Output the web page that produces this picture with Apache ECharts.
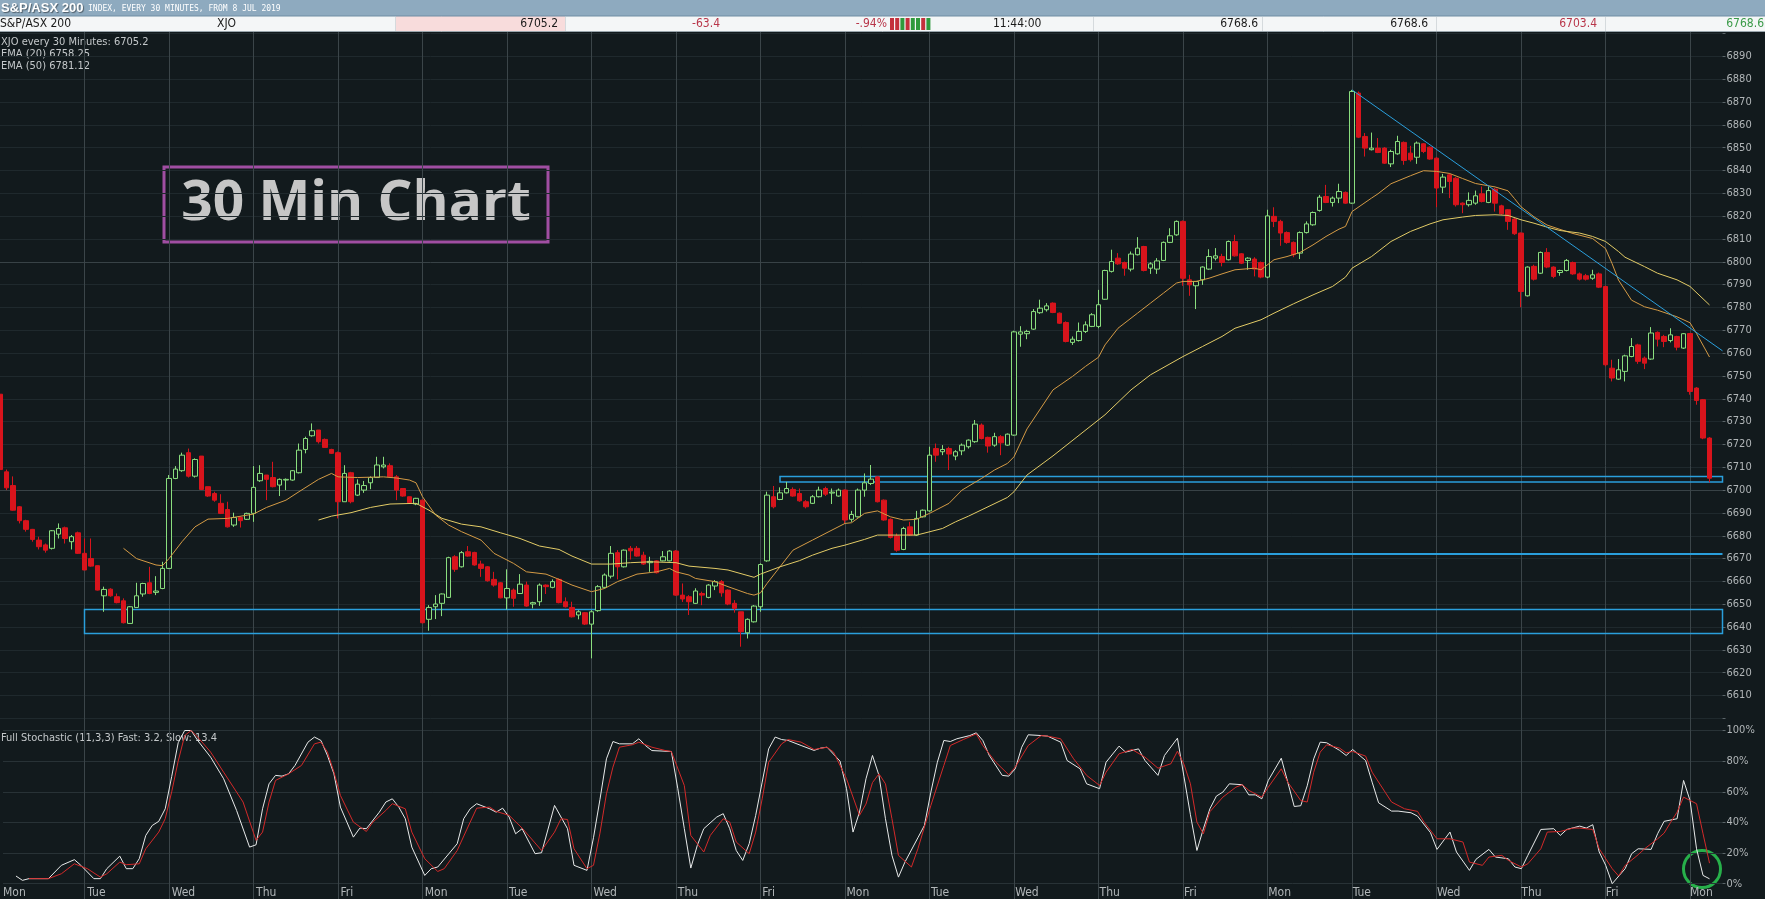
<!DOCTYPE html>
<html>
<head>
<meta charset="utf-8">
<script src="https://cdn.jsdelivr.net/npm/echarts@6/dist/echarts.min.js"></script>
<style>
html,body{margin:0;padding:0;background:#121a1d;}
#chart{width:1765px;height:899px;}
</style>
</head>
<body>
<div id="chart"></div>
<script>
// ---------- categories ----------
const dayNames = ['Mon','Tue','Wed','Thu','Fri','Mon','Tue','Wed','Thu','Fri','Mon','Tue','Wed','Thu','Fri','Mon','Tue','Wed','Thu','Fri','Mon'];
const dayDates = ['8 Jul','9 Jul','10 Jul','11 Jul','12 Jul','15 Jul','16 Jul','17 Jul','18 Jul','19 Jul','22 Jul','23 Jul','24 Jul','25 Jul','26 Jul','29 Jul','30 Jul','31 Jul','1 Aug','2 Aug','5 Aug'];
const sessionTimes = ['10:00','10:30','11:00','11:30','12:00','12:30','13:00','13:30','14:00','14:30','15:00','15:30','16:00'];
const lastDaySlots = 6;

// ---------- candles [open, high, low, close] ----------
const week1 = [
[6742,6743,6708,6709],[6708,6709,6700,6701],[6702,6706,6691,6691.2],[6692.7,6693,6685.4,6686.6],[6686.6,6687,6681.8,6682.8],
[6682.8,6683,6677.4,6678.4],[6678.1,6679.6,6674,6675.2],[6676,6676.6,6672.6,6673.7],[6674.5,6682.5,6674,6682.2],[6680.7,6685.4,6678.8,6683.2],
[6683.5,6684,6676.6,6678.8],[6677.4,6680.3,6674,6679.6],[6681.3,6681.8,6672,6672.3],
[6672.3,6678.8,6665,6665],[6670,6678.8,6666.4,6666.7],[6666.9,6667,6656,6656.2],[6653.7,6657.7,6646.7,6656.5],[6656.6,6657,6653.3,6653.7],
[6653.3,6654.7,6650.4,6650.7],[6651.5,6652.6,6641.6,6641.9],[6641.6,6649.2,6641.6,6648.9],[6648.6,6659.4,6648.6,6653.7],[6654.5,6659.4,6653.3,6659.1],
[6659.4,6666.4,6654.4,6654.7],[6655.2,6662.3,6654,6655.8],[6656.9,6668.6,6656.6,6665.7],
[6665.7,6706.6,6665.4,6705.1],[6705.1,6710.5,6704.8,6709.2],[6708.5,6716.4,6708,6715.3],[6716.4,6718.2,6705.5,6706.1],[6706.1,6713.9,6705.5,6713.4],
[6714.9,6714.9,6700,6700.3],[6701.5,6701.5,6697,6697.4],[6698.5,6699.3,6694.9,6695.6],[6694.2,6698.2,6689.5,6689.8],[6691.5,6694.9,6683.6,6683.9],
[6684.7,6690.1,6683.9,6688],[6688,6688.3,6683.6,6686.6],[6687.2,6690.1,6686.9,6689.8],
[6689.8,6710.5,6686.1,6701.2],[6704.1,6710.9,6703.6,6707.3],[6706.6,6706.6,6695.6,6704.7],[6705.5,6712.4,6701.2,6701.5],[6702.2,6705.1,6697.4,6704.7],
[6704.4,6705.1,6700,6704.7],[6704.4,6708.8,6704.1,6708.5],[6707.6,6720.4,6707.3,6717.5],[6717.8,6723.4,6716.1,6722.6],[6723.8,6729.2,6723.4,6726],
[6726.3,6726.3,6720.4,6721.2],[6722.2,6722.6,6718.7,6718.7],[6717.8,6718.1,6715.8,6716.1],
[6716.4,6716.9,6687.6,6694.9],[6694.9,6710.9,6694.9,6707.3],[6707.6,6708,6694.2,6694.9],[6697.8,6704.7,6697.4,6702.6],[6700,6704,6698.8,6702],
[6703.2,6706,6700.4,6705.5],[6705.5,6714.6,6705.5,6711],[6710.2,6714.6,6709.5,6711],[6710.7,6711.7,6705.5,6705.8],[6705.8,6706.6,6695.6,6700],
[6700.7,6700.7,6697.1,6697.4],[6697.1,6697.1,6694.2,6694.5],[6693.9,6696.6,6693.4,6696.4]
];
const week2 = [
[6695.6,6695.9,6641.6,6641.9],[6643.4,6649.6,6638.4,6648.6],[6648.9,6654,6643.5,6650.1],[6650.4,6654.7,6644.8,6654.5],[6653,6670.8,6652.7,6670.4],
[6670.8,6671.5,6664.2,6665.3],[6666.4,6673.3,6666.1,6672.6],[6673,6675.5,6670.8,6671.1],[6672.7,6673,6666.9,6667.2],[6667.6,6669.1,6662,6665.7],
[6666.4,6666.7,6659.9,6660.3],[6660.9,6664.2,6657.7,6658.4],[6659.4,6659.7,6652.6,6652.8],
[6652.8,6665.3,6647.7,6656.9],[6656.2,6656.9,6648.9,6652.6],[6654.7,6663.2,6654.5,6658.8],[6658.4,6659.9,6648.9,6649.2],[6650.1,6651.1,6648.2,6650.7],
[6651.1,6659.1,6649.3,6658.4],[6658.4,6658.7,6654.5,6657.7],[6657.4,6660.9,6657,6659.9],[6660.9,6661.3,6650.4,6650.7],[6651.1,6653,6648.6,6648.9],
[6648.6,6651.1,6644.2,6644.5],[6645.3,6647.4,6643.4,6646.7],[6646.3,6646.6,6640.9,6641.3],
[6641.3,6647.4,6626.3,6646.7],[6647.2,6658.4,6646.7,6657.7],[6657.4,6663.5,6656.9,6662.8],[6662.3,6675.5,6661.3,6672.3],[6672.6,6673.7,6660.9,6666.4],
[6666.4,6674,6666.1,6673.7],[6674.5,6675.5,6669.6,6673.4],[6674.5,6675.5,6670.8,6671.1],[6671.5,6673,6667.2,6667.6],[6668.2,6670.8,6664.2,6668.8],
[6669,6669.3,6663.5,6663.8],[6669,6673.3,6668.8,6670.8],[6669,6673.7,6668.8,6673.3],
[6673.3,6673.7,6653.7,6654],[6654,6659.1,6651,6652.3],[6653.3,6654,6645.3,6651.1],[6650.4,6657,6650.1,6655.8],[6654.7,6655.5,6649.6,6654],
[6653,6658.8,6652.6,6658.4],[6658,6660.6,6656.2,6659.9],[6659.9,6660.6,6653.3,6655],[6656.2,6656.5,6649.6,6650.1],[6650.4,6651.8,6646.3,6648.2],
[6646.7,6646.7,6631.4,6638],[6637.5,6643.8,6635,6643.4],[6642.3,6649.6,6642,6649.2],
[6648.9,6667.9,6646.7,6667.4],[6669,6699.3,6668.6,6697.8],[6697.1,6701.8,6692,6692.7],[6695.9,6701.2,6695.6,6698.8],[6698.8,6703.6,6698.5,6700.7],
[6700.3,6701.2,6697.1,6697.4],[6698.5,6700.7,6694.9,6695.3],[6694.9,6695.6,6692,6692.7],[6694.2,6697.8,6693.9,6697.1],[6697.1,6701.5,6696.8,6700],
[6700.7,6701.5,6697.4,6698.2],[6698.7,6700.7,6693.9,6699.1],[6697.4,6700.7,6697.1,6700]
];
const week3 = [
[6700,6700.3,6685.4,6686.9],[6687.2,6690.9,6686.1,6689.3],[6688.3,6700.7,6688,6700],[6700,6707.3,6697.1,6703.2],[6702.9,6711,6702.2,6704.8],
[6705.8,6706.1,6694.6,6694.9],[6695.6,6695.9,6686.6,6686.9],[6687.2,6687.6,6678.8,6679.3],[6679.9,6681,6673,6673.7],[6674,6683.9,6673.7,6683.2],
[6683.9,6686.1,6679.9,6680.3],[6680.3,6690.9,6679.9,6687.6],[6688.3,6691.5,6688,6691.2],
[6690.9,6719,6690.5,6715.3],[6718.2,6720.4,6712.4,6715.3],[6716.8,6719.7,6715.3,6717.8],[6718.2,6719,6708.8,6715.8],[6714.9,6717.5,6713.1,6716.8],
[6717.2,6720.4,6715.3,6719.7],[6719,6722.2,6718.2,6721.9],[6721.2,6730.7,6720.7,6728.9],[6728.5,6729.2,6722.2,6722.6],[6723.1,6723.4,6716.4,6719.3],
[6719.7,6725.1,6719,6723.4],[6723.4,6724.1,6715.3,6720.7],[6719.7,6724.8,6719.4,6724.5],
[6724.1,6769.8,6723.8,6769.3],[6768.3,6771.8,6762.8,6769.3],[6768.5,6770.2,6766.1,6769.5],[6770.5,6779.3,6770.2,6778.2],[6777.7,6783.4,6777.2,6779.7],
[6779,6781.9,6778.2,6780.7],[6781.9,6782.2,6777.5,6777.8],[6777.5,6777.8,6772.8,6773.1],[6773.4,6773.9,6764.7,6765.1],[6764.7,6767.3,6763.6,6766.1],
[6765.5,6773.4,6765.1,6769.5],[6769.5,6773.9,6768.8,6772.4],[6771.7,6777.5,6771.4,6776.8],
[6771.7,6787.7,6770.9,6781.2],[6783.6,6796.5,6783.4,6796.2],[6795.8,6805.3,6795.3,6800.1],[6801.6,6803.8,6798.7,6799.1],[6799.7,6800.1,6793.9,6797.2],
[6796.8,6804.5,6795.8,6803.4],[6803.1,6810.8,6802.8,6806],[6806.7,6807,6795.8,6796.2],[6797.2,6799.8,6794.7,6799.1],[6796.8,6801.6,6794.7,6800.4],
[6800.6,6808.9,6800.3,6808.5],[6808.5,6814.7,6808.2,6811.4],[6811.8,6818.1,6811.4,6817.7],
[6817.7,6818.1,6789.5,6792.8],[6792.1,6794.3,6785.1,6789.9],[6789.5,6791.4,6779.3,6791.4],[6792.1,6798,6789.9,6797.7],[6796.8,6805.5,6796.5,6802.3],
[6801.6,6806,6800.6,6802.6],[6802.3,6803.5,6798,6799.7],[6800.9,6809.3,6800.6,6808.9],[6808.9,6811.8,6802.3,6802.6],[6803.5,6803.8,6799,6799.4],
[6800.6,6802,6796.5,6801.6],[6801.2,6802,6793.6,6796.8],[6799.7,6800.1,6792.8,6793.3]
];
const week4 = [
[6793.3,6822.8,6792.8,6820.1],[6819.9,6823.9,6815.2,6817.7],[6817.7,6818.4,6807,6812.6],[6812.8,6813.3,6807.9,6808.5],[6808.5,6808.9,6802,6803.1],
[6803.8,6813.3,6801.2,6812.8],[6812.8,6817.7,6812.4,6816.6],[6816.2,6822,6815.8,6821.6],[6822.5,6829.3,6822,6828.3],[6828.6,6833.7,6825.7,6826],
[6826,6828.6,6824.2,6827.9],[6827.9,6834.2,6825.7,6830.8],[6830.4,6830.8,6825.4,6825.7],
[6825.7,6875.3,6825.4,6874.6],[6873.9,6874.6,6854.2,6854.6],[6854.9,6856.4,6846.1,6849.8],[6849.1,6856.6,6848.8,6849.8],[6849.8,6854.2,6847.6,6847.9],
[6849.8,6850.2,6842.9,6843.2],[6842.9,6849.1,6841.5,6848.3],[6847.3,6855.2,6846.9,6852.7],[6852.3,6852.7,6842.5,6844.4],[6847.6,6850.8,6843.9,6844.7],
[6845.8,6852.7,6842.9,6852],[6851.7,6852,6847.6,6848.3],[6850.2,6850.5,6844.7,6845],
[6845.4,6845.8,6823.9,6832.3],[6832.7,6838.5,6830.1,6837.1],[6838.1,6838.8,6827.9,6835.2],[6836.6,6837.1,6824.2,6825],[6825.7,6826,6821.3,6825],
[6825,6830.4,6824.2,6826.9],[6825.7,6831.2,6825,6828.9],[6829.8,6833,6826,6826.4],[6826,6833,6825.7,6831.2],[6831.8,6832.3,6822,6825.7],
[6824.5,6825,6820.6,6821],[6822.8,6823.1,6814,6817.7],[6818.7,6819.1,6811.8,6812.3],
[6812.6,6812.8,6780.1,6787],[6785.1,6798,6784.8,6797.7],[6798,6798.7,6791.8,6792.4],[6795,6804.5,6794.7,6804.1],[6804.1,6806,6797.2,6797.7],
[6797.7,6798,6792.8,6793.6],[6795.3,6796.5,6793.9,6796.2],[6796.2,6801.2,6795.8,6800.6],[6799.7,6800.1,6794.3,6794.7],[6794.7,6795.3,6791.8,6792.4],
[6793.9,6794.7,6791.8,6792.4],[6792.8,6796.5,6792.1,6794.3],[6794.7,6795.3,6788.5,6788.9],
[6789.2,6789.5,6754.2,6754.9],[6753.4,6757.1,6747.6,6749.1],[6748.6,6757.4,6748.3,6752.7],[6752,6759.3,6747.6,6758.8],[6758.5,6766.6,6758.2,6762.9],
[6763.6,6764.1,6755.3,6756.4],[6757.8,6758.5,6753,6755.6],[6757.4,6771.4,6757.1,6768.8],[6769.1,6769.5,6762.9,6766.1],[6767.3,6768,6762.6,6765.1],
[6765.5,6770.9,6764.7,6768],[6767.3,6767.6,6761.2,6762.6],[6762.2,6768.8,6761.8,6768.5]
];
const week5 = [
[6768.6,6768.6,6741.8,6743.2],[6744.7,6745.1,6737.4,6739.3],[6739.6,6739.9,6722.3,6722.8],[6722.8,6723.2,6703.4,6705.2]
];

// ---------- EMA readings [bar index, value] ----------
const ema20 = [[19,6674.5],[21,6670],[24,6667.2],[25,6666.9],[26,6670],[28,6677.4],[30,6683.9],[32,6687.3],[35,6687.6],[39,6689.5],[41,6692.4],[44,6695.6],[46,6699.3],[49,6704.7],[51,6707.3],[52,6705.8],[55,6705.5],[59,6705.8],[61,6705.3],[63,6704.4],[64,6703.2],[65,6697.1],[67,6689.1],[69,6684.7],[71,6681.8],[74,6678.1],[76,6672.3],[79,6667.9],[81,6664.2],[84,6663.2],[86,6660.9],[88,6658.4],[91,6655.5],[93,6656.9],[95,6659.9],[98,6663.2],[101,6664.2],[103,6665.7],[104,6664.2],[106,6662.8],[107,6661.3],[110,6659.9],[112,6657.7],[115,6654.7],[116,6654],[117,6655],[118,6659.1],[120,6666.4],[122,6673.7],[125,6678.1],[128,6682.5],[130,6685.4],[131,6685.7],[133,6689.8],[135,6690.9],[137,6688.3],[139,6686.9],[141,6687.2],[143,6689.8],[146,6694.2],[148,6700],[151,6705.1],[153,6708.8],[155,6711.7],[156,6714.6],[158,6726.8],[162,6743.9],[165,6749.8],[167,6754.2],[169,6758.2],[170,6763.6],[172,6770.9],[175,6777.5],[177,6781.9],[179,6786.3],[181,6790.7],[182,6791.4],[184,6791.4],[186,6792.8],[188,6794.7],[190,6796.5],[193,6797.2],[194,6796.5],[196,6800.9],[198,6802.3],[200,6804.1],[202,6807.4],[204,6811.1],[206,6814.3],[207,6815.5],[208,6822],[211,6827.9],[212,6829.8],[214,6834.2],[217,6837.7],[219,6839.9],[221,6839.6],[223,6838.7],[225,6836.5],[227,6834.3],[230,6832.8],[232,6831.1],[233,6827.7],[234,6824.1],[236,6819.7],[238,6816.1],[240,6814.2],[242,6812.4],[245,6810.2],[247,6805.8],[248,6799.3],[249,6792],[251,6783.2],[253,6780.3],[255,6778.8],[258,6775.9],[260,6773.3],[261,6768.6],[263,6758.3]];
const ema50 = [[49,6686.9],[51,6688.6],[54,6690.1],[57,6692.4],[60,6693.9],[64,6694.2],[66,6691.2],[68,6687.6],[71,6685.1],[74,6683.9],[77,6681.3],[80,6678.8],[83,6675.5],[86,6674],[88,6671.1],[91,6667.6],[94,6667.6],[97,6668.2],[100,6668.6],[104,6668.2],[106,6666.7],[110,6665.7],[112,6665],[116,6661.8],[117,6663.2],[120,6666.4],[123,6669.1],[125,6671.5],[128,6674.5],[130,6675.9],[133,6678.4],[135,6680.3],[138,6680.3],[141,6680.3],[142,6681],[145,6683.2],[147,6686.1],[149,6688.6],[152,6692.7],[155,6696.8],[156,6699.3],[158,6706.6],[162,6715],[166,6724],[170,6733],[174,6743.9],[177,6750.5],[182,6758.5],[185,6762.9],[188,6767.3],[190,6770.9],[194,6774.6],[196,6777.5],[199,6781.6],[202,6785.5],[205,6789.2],[207,6793.3],[208,6797.2],[211,6802.3],[212,6804.5],[214,6808.9],[217,6813.3],[220,6816.6],[222,6818.4],[225,6819.6],[227,6820.3],[230,6820.6],[232,6820.3],[234,6818.4],[236,6816.9],[238,6815.2],[240,6813.7],[243,6812.6],[245,6811.1],[247,6808.9],[249,6804.5],[250,6802],[253,6797.9],[255,6795],[258,6792.1],[260,6789.2],[263,6781.1]];

// ---------- Full Stochastic (11,3,3) readings [bar index, %] ----------
const stochFast = [[2,5],[3,2.2],[4,3.3],[7,3.3],[9,12],[11,15.7],[12,12],[14,3.3],[15,3.3],[16,9.8],[18,18],[19,9.8],[20,9.8],[21,16.3],[22,31.5],[23,38],[24,40.7],[25,48.9],[26,70],[27,92],[28,100],[29,100],[30,93.5],[32,82.6],[34,68.5],[36,47.8],[38,23.9],[39,25.4],[40,48.9],[41,65.2],[42,70.7],[43,70.2],[44,71.7],[45,77.2],[47,92.4],[48,95.7],[49,93.5],[50,83.7],[51,71.7],[52,50],[53,40.2],[54,30.4],[55,36.3],[56,35.9],[58,46.7],[59,53.3],[60,55.4],[61,50],[62,42.4],[63,23.9],[65,5.4],[66,9.8],[67,10.9],[70,26.1],[71,42.4],[72,48.9],[73,52.2],[75,48.9],[76,46.7],[77,49.3],[78,43.5],[79,32.6],[80,35.9],[82,19.6],[83,20.2],[85,51.1],[87,35.9],[88,12],[90,8.7],[91,30],[92,55],[93,81.5],[94,92.8],[95,91.3],[97,91.3],[98,94.6],[99,90.2],[100,86.9],[103,86.3],[104,62],[105,36],[106,10.2],[107,25],[108,35.9],[110,43.5],[111,45.7],[112,35.9],[113,21.7],[114,15.2],[115,26.1],[116,44.6],[117,66.3],[118,88],[119,95.7],[120,94.1],[121,93.5],[123,90.2],[125,87],[126,88.5],[127,89.1],[129,80],[130,62],[131,33.7],[132,46.7],[133,68.5],[134,83.7],[135,70.7],[136,42.4],[137,18.5],[138,4.3],[139,14.1],[141,30],[142,38],[143,59.8],[144,79.3],[145,93.5],[146,92.8],[147,94.6],[149,96.7],[150,98.5],[151,93.5],[152,83.7],[154,70.7],[155,70.2],[156,75],[157,89.1],[158,97.2],[160,96.7],[161,96.3],[163,92.4],[164,80.4],[166,75],[167,65.2],[169,62],[170,79.3],[172,89.8],[173,85.9],[175,88],[176,80.4],[178,70.7],[179,83.7],[181,95],[182,70],[183,45],[184,21.7],[185,35.9],[186,48.9],[187,57.2],[188,59.8],[189,65.2],[191,64.6],[192,58],[193,58],[194,55.4],[195,67.4],[197,81.9],[198,66.3],[199,50.4],[200,50.9],[201,63.9],[202,81.5],[203,92.4],[204,92],[206,87],[207,83.7],[208,87.6],[210,80.4],[211,66.3],[212,52.8],[214,47.4],[215,47.4],[217,46.3],[218,44.1],[220,33.3],[221,22.4],[223,33.7],[224,20.7],[226,8.7],[227,15.9],[229,22.4],[230,17.4],[232,16.3],[233,10.9],[234,9.8],[235,18.5],[237,35.4],[239,35.9],[240,31.5],[241,35.4],[243,37.6],[244,36.3],[245,38.5],[246,20.7],[247,12],[248,0],[250,9.8],[251,19.6],[252,22.8],[254,22.4],[255,32.6],[256,40.7],[258,42.4],[259,67.4],[260,54.3],[261,22.8],[262,5.4],[263,3.2]];
const stochSlow = [[4,3.3],[7,3.3],[9,6.5],[11,13],[13,9.8],[15,4.3],[16,6.5],[18,14.1],[19,12.4],[21,13],[22,22.8],[24,33.7],[25,42.4],[26,60],[27,80],[28,96.7],[29,100],[30,95.7],[32,85.9],[34,72.8],[37,53.3],[39,28.3],[40,33.7],[41,53.3],[42,67.4],[44,71.7],[46,77.2],[48,91.3],[49,92.4],[50,85.9],[51,72.8],[52,57.6],[54,40.2],[56,34.1],[57,40.2],[59,47.8],[60,52.2],[62,48.9],[63,33.7],[65,16.3],[67,8],[68,9.8],[70,21.7],[72,40.2],[73,49.3],[75,50],[76,47.2],[78,44.6],[80,36.3],[83,21.7],[85,33.7],[86,42.4],[87,41.9],[88,22.8],[90,9.8],[91,12],[92,33],[93,58.7],[94,76.1],[95,89.1],[97,90.7],[98,92.4],[100,89.1],[102,87],[103,86.3],[105,64.1],[106,31.5],[108,20.7],[109,31.5],[111,42.4],[112,40.2],[113,27.2],[115,19.6],[116,33.7],[117,55.4],[118,79.3],[120,91.3],[121,94.1],[123,92.4],[125,87.6],[127,89.1],[128,85.9],[130,68.5],[132,44.6],[133,52],[134,66],[135,71.7],[136,65.2],[137,42.4],[138,18.5],[140,10.9],[141,22.8],[143,51.1],[145,77.2],[146,90.2],[148,94.1],[150,97.8],[151,90.2],[153,79.3],[155,71.1],[156,76.1],[158,90.2],[160,96.7],[161,96.3],[163,94.6],[165,81.5],[167,70.7],[169,64.1],[170,72.8],[172,84.8],[174,87.6],[176,82.6],[178,75.4],[180,78.3],[181,86.5],[182,78],[183,65.2],[184,40.2],[185,32.6],[186,47],[188,56.5],[190,63],[191,64.6],[192,60.9],[194,56.5],[195,63],[197,75],[198,66.3],[200,54.3],[201,53.3],[202,72.8],[203,85.9],[204,90.7],[206,88.5],[207,85.4],[208,86.3],[210,83.3],[211,72.8],[213,59.8],[214,53.3],[216,48.9],[218,47.2],[219,40.2],[221,29.3],[223,29.3],[225,27.2],[226,14.1],[228,12],[229,17.4],[231,18.5],[232,15.2],[234,10.9],[235,13],[237,22.8],[238,33.7],[240,34.1],[242,36.3],[243,36.3],[245,35.4],[246,22.8],[248,9.8],[249,5],[250,12],[252,18.9],[253,22.8],[255,29.3],[256,33],[257,40],[258,46.7],[259,56.5],[261,52.2],[262,32.6],[263,13.4]];

// ---------- annotations ----------
const trendStart = [208, 6875.3];
const trendEnd = [265, 6761];
const lowerBox = [13, 6637.2, 6647.7];
const upperBox = [120, 6703.6, 6706];
const supportLine = [137, 6672.3];
const brightLevels = [6700, 6800];
const tickBarColors = ['#c4303c','#c4303c','#2f9a3c','#c4303c','#2f9a3c','#2f9a3c','#c4303c','#2f9a3c'];

// ---------- build ----------
const cats = [];
dayNames.forEach((d, k) => {
  const n = k === dayNames.length - 1 ? lastDaySlots : sessionTimes.length;
  for (let s = 0; s < n; s++) cats.push(d + ' ' + dayDates[k] + ' ' + sessionTimes[s]);
});
const ohlc = [].concat(week1, week2, week3, week4, week5);
const candleData = ohlc.map(c => [c[0], c[3], c[2], c[1]]);
function dense(pairs) {
  const a = new Array(cats.length).fill(null);
  pairs.forEach(p => { a[p[0]] = p[1]; });
  return a;
}
const lastIdx = cats.length - 1;

const BG = '#121a1d';
const GREEN = '#8ade7e';
const RED = '#d8141c';
const BLUE = '#2a9fdc';
const NARROW = "'DejaVu Sans Condensed','Liberation Sans Narrow',sans-serif";
const LABEL = '#b1b6b8';
const faint = '#1f292d';
const bright = '#384246';

const P_MIN = 6600, P_MAX = 6900, P_STEP = 10;
const priceSplitColors = [];
for (let v = P_MIN; v <= P_MAX; v += P_STEP) priceSplitColors.push(brightLevels.indexOf(v) >= 0 ? bright : faint);

const chart = echarts.init(document.getElementById('chart'), null, {renderer: 'canvas'});

const rowFont = "12px " + NARROW;
const headerGraphics = [
  {type:'rect', shape:{x:0,y:0,width:1765,height:16}, style:{fill:'#8eaabf'}},
  {type:'rect', shape:{x:0,y:16,width:1765,height:16}, style:{fill:'#f4f6f7'}},
  {type:'rect', shape:{x:396,y:16,width:169,height:16}, style:{fill:'#f8dcdc'}},
  {type:'line', shape:{x1:0,y1:16,x2:1765,y2:16}, style:{stroke:'#6f8da3',lineWidth:1}},
  {type:'line', shape:{x1:0,y1:31.5,x2:1765,y2:31.5}, style:{stroke:'#9aa6ad',lineWidth:1}},
  {type:'text', x:1, y:8, style:{text:'S&P/ASX 200', fill:'#ffffff', font:"bold 13px 'Liberation Sans',sans-serif", verticalAlign:'middle', textShadowColor:'rgba(0,0,0,0.45)', textShadowBlur:1, textShadowOffsetX:1, textShadowOffsetY:1}},
  {type:'text', x:88, y:9, style:{text:'INDEX, EVERY 30 MINUTES, FROM 8 JUL 2019', fill:'#ffffff', font:"8px 'DejaVu Sans Mono',monospace", verticalAlign:'middle'}},
  {type:'text', x:0, y:24, style:{text:'S&P/ASX 200', fill:'#1a1a1a', font:rowFont, verticalAlign:'middle'}},
  {type:'text', x:217, y:24, style:{text:'XJO', fill:'#1a1a1a', font:rowFont, verticalAlign:'middle'}},
  {type:'text', x:558, y:24, style:{text:'6705.2', fill:'#1a1a1a', font:rowFont, align:'right', verticalAlign:'middle'}},
  {type:'text', x:720, y:24, style:{text:'-63.4', fill:'#b8364a', font:rowFont, align:'right', verticalAlign:'middle'}},
  {type:'text', x:887, y:24, style:{text:'-.94%', fill:'#b8364a', font:rowFont, align:'right', verticalAlign:'middle'}},
  {type:'text', x:993, y:24, style:{text:'11:44:00', fill:'#1a1a1a', font:rowFont, verticalAlign:'middle'}},
  {type:'text', x:1258, y:24, style:{text:'6768.6', fill:'#1a1a1a', font:rowFont, align:'right', verticalAlign:'middle'}},
  {type:'text', x:1428, y:24, style:{text:'6768.6', fill:'#1a1a1a', font:rowFont, align:'right', verticalAlign:'middle'}},
  {type:'text', x:1597, y:24, style:{text:'6703.4', fill:'#b8364a', font:rowFont, align:'right', verticalAlign:'middle'}},
  {type:'text', x:1764, y:24, style:{text:'6768.6', fill:'#3a9a48', font:rowFont, align:'right', verticalAlign:'middle'}}
];
[395.5, 565.5, 1093.5, 1262.5, 1436.5, 1605.5].forEach(x => {
  headerGraphics.push({type:'line', shape:{x1:x,y1:17,x2:x,y2:31}, style:{stroke:'#d5dadd',lineWidth:1}});
});
tickBarColors.forEach((c, k) => {
  headerGraphics.push({type:'rect', shape:{x:890 + k*5.2, y:18, width:4, height:12}, style:{fill:c}});
});

const legendFont = "11px " + NARROW;
const overlayGraphics = [
  {type:'text', x:1, y:42, style:{text:'XJO every 30 Minutes: 6705.2', fill:'#c4c8ca', font:legendFont, verticalAlign:'middle'}},
  {type:'text', x:1, y:54, style:{text:'EMA (20) 6758.25', fill:'#c4c8ca', font:legendFont, verticalAlign:'middle'}},
  {type:'text', x:1, y:66, style:{text:'EMA (50) 6781.12', fill:'#c4c8ca', font:legendFont, verticalAlign:'middle'}},
  {type:'text', x:1, y:738, style:{text:'Full Stochastic (11,3,3) Fast: 3.2, Slow: 13.4', fill:'#c4c8ca', font:legendFont, verticalAlign:'middle'}},
  {type:'rect', shape:{x:164, y:167, width:384, height:75}, style:{fill:'none', stroke:'#a04ea2', lineWidth:3}},
  {type:'text', x:356, y:204, style:{text:'30 Min Chart', fill:'#c6c6c6', font:"bold 55px 'Open Sans',sans-serif", align:'center', verticalAlign:'middle'}},
  {type:'circle', shape:{cx:1702, cy:869, r:18.5}, style:{fill:'none', stroke:'#27b04a', lineWidth:3}}
];

const option = {
  backgroundColor: BG,
  animation: false,
  grid: [
    {left:0, right:42.5, top:33.5, bottom:180.6},
    {left:0, right:42.5, top:730.5, bottom:15.3},
    {left:0, right:42.5, top:32, bottom:0}
  ],
  xAxis: [
    {type:'category', gridIndex:0, data:cats, boundaryGap:false, axisLine:{show:false}, axisTick:{show:false}, axisLabel:{show:false}, splitLine:{show:false}},
    {type:'category', gridIndex:1, data:cats, boundaryGap:false, axisLine:{show:false}, axisTick:{show:false},
      axisLabel:{show:true, interval:(i) => i % sessionTimes.length === 0, formatter:(v) => v.split(' ')[0], align:'left', margin:3, color:LABEL, fontSize:12, fontFamily:NARROW},
      splitLine:{show:false}},
    {type:'category', gridIndex:2, data:cats, boundaryGap:false, axisLine:{show:false}, axisTick:{show:false}, axisLabel:{show:false},
      splitLine:{show:true, interval:(i) => i > 0 && i % sessionTimes.length === 0, lineStyle:{color:'#3b4549', width:1}}}
  ],
  yAxis: [
    {type:'value', gridIndex:0, position:'right', min:P_MIN, max:P_MAX, interval:P_STEP,
      axisLine:{show:false}, axisTick:{show:true, length:3, lineStyle:{color:'#5b6569'}},
      axisLabel:{formatter:(v) => (v === P_MIN || v === P_MAX) ? '' : String(v), margin:4, color:LABEL, fontSize:11, fontFamily:NARROW},
      splitLine:{show:true, lineStyle:{color:priceSplitColors, width:1}}},
    {type:'value', gridIndex:1, position:'right', min:0, max:100, interval:20,
      axisLine:{show:false}, axisTick:{show:true, length:3, lineStyle:{color:'#5b6569'}},
      axisLabel:{formatter:'{value}%', margin:4, color:LABEL, fontSize:11, fontFamily:NARROW},
      splitLine:{show:true, lineStyle:{color:'#283236', width:1}}},
    {type:'value', gridIndex:2, show:false, min:0, max:1}
  ],
  graphic: headerGraphics.concat(overlayGraphics),
  series: [
    {type:'line', xAxisIndex:2, yAxisIndex:2, data:[], silent:true},
    {
      name:'XJO', type:'candlestick', xAxisIndex:0, yAxisIndex:0, data:candleData, barWidth:5,
      itemStyle:{color:BG, color0:RED, borderColor:GREEN, borderColor0:RED, borderWidth:1},
      markArea:{silent:true, itemStyle:{color:'rgba(0,0,0,0)', borderColor:BLUE, borderWidth:1.5},
        data:[
          [{coord:[cats[lowerBox[0]], lowerBox[2]]}, {coord:[cats[lastIdx], lowerBox[1]]}],
          [{coord:[cats[upperBox[0]], upperBox[2]]}, {coord:[cats[lastIdx], upperBox[1]]}]
        ]},
      markLine:{silent:true, symbol:['none','none'], label:{show:false},
        data:[
          [{coord:[cats[trendStart[0]], trendStart[1]], lineStyle:{color:BLUE, width:1, type:'solid'}}, {coord:[cats[trendEnd[0]], trendEnd[1]]}],
          [{coord:[cats[supportLine[0]], supportLine[1]], lineStyle:{color:BLUE, width:2, type:'solid'}}, {coord:[cats[lastIdx], supportLine[1]]}]
        ]}
    },
    {name:'EMA (20)', type:'line', xAxisIndex:0, yAxisIndex:0, data:dense(ema20), connectNulls:true, showSymbol:false, symbol:'none', lineStyle:{color:'#d49a45', width:1}},
    {name:'EMA (50)', type:'line', xAxisIndex:0, yAxisIndex:0, data:dense(ema50), connectNulls:true, showSymbol:false, symbol:'none', lineStyle:{color:'#e2cb66', width:1}},
    {name:'Fast', type:'line', xAxisIndex:1, yAxisIndex:1, data:dense(stochFast), connectNulls:true, showSymbol:false, symbol:'none', lineStyle:{color:'#e8eaea', width:1}},
    {name:'Slow', type:'line', xAxisIndex:1, yAxisIndex:1, data:dense(stochSlow), connectNulls:true, showSymbol:false, symbol:'none', lineStyle:{color:'#d42a2a', width:1}}
  ]
};
chart.setOption(option);
</script>
</body>
</html>
